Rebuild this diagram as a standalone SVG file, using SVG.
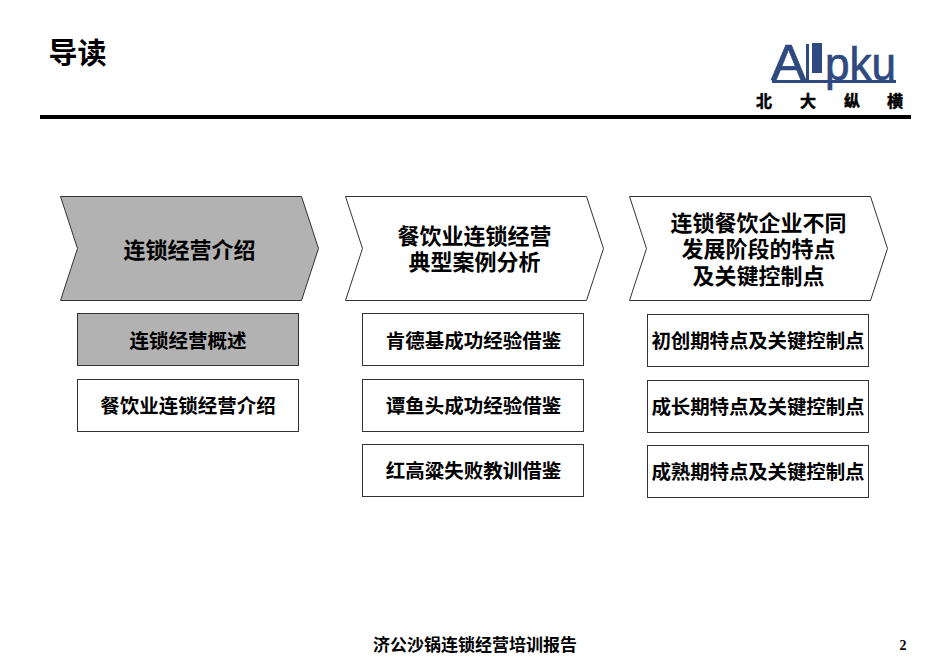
<svg xmlns="http://www.w3.org/2000/svg" width="950" height="658" viewBox="0 0 950 658">
<style>
text{font-family:"Liberation Sans","Noto Sans CJK SC",sans-serif;font-weight:bold;fill:#000;text-anchor:middle}
.c{stroke:#333;stroke-width:1;fill:#fff}
.g{fill:#b2b2b2}
.t1{font-size:22px}
.t2{font-size:19.5px}
.hz{font-size:16px;stroke:#000;stroke-width:.5}
</style>
<rect width="950" height="658" fill="#fff"/>
<g id="header">
<text x="77.500" y="64" style="font-size:29px">导读</text>
<rect x="40" y="115" width="871" height="4" fill="#000"/>
</g>
<g id="logo">
<text x="771" y="80" textLength="35" lengthAdjust="spacingAndGlyphs" style="font-size:50px;text-anchor:start;fill:#2f4a80;font-weight:normal;stroke:#2f4a80;stroke-width:.7">A</text>
<rect x="806" y="44" width="3" height="37" fill="#2f4a80"/>
<rect x="812" y="43" width="10" height="30" fill="#2f4a80"/>
<text x="825" y="80" textLength="71" lengthAdjust="spacingAndGlyphs" style="font-size:46px;text-anchor:start;fill:#2f4a80;font-weight:normal;stroke:#2f4a80;stroke-width:.7">pku</text>
<rect x="772" y="80" width="124" height="3" fill="#2f4a80"/>
<text class="hz" x="764" y="107">北</text>
<text class="hz" x="808" y="107">大</text>
<text class="hz" x="852" y="107">纵</text>
<text class="hz" x="895" y="107">横</text>
</g>
<g id="step1">
<path class="c g" d="M60.500 196.500H301.500L318.500 248.500L301.500 300.500H60.500L77.500 248.500Z"/>
<text class="t1" x="189.500" y="258">连锁经营介绍</text>
</g>
<g id="step2">
<path class="c" d="M345.500 196.500H586.500L603.500 248.500L586.500 300.500H345.500L362.500 248.500Z"/>
<text class="t1" x="474.500" y="244">餐饮业连锁经营</text>
<text class="t1" x="474.500" y="270">典型案例分析</text>
</g>
<g id="step3">
<path class="c" d="M629.500 196.500H870.500L887.500 248.500L870.500 300.500H629.500L646.500 248.500Z"/>
<text class="t1" x="758.500" y="231">连锁餐饮企业不同</text>
<text class="t1" x="758.500" y="257">发展阶段的特点</text>
<text class="t1" x="758.500" y="284">及关键控制点</text>
</g>
<g id="box-a1"><rect class="c g" x="77.500" y="313.500" width="221" height="52"/><text class="t2" x="188" y="348">连锁经营概述</text></g>
<g id="box-a2"><rect class="c" x="77.500" y="379.500" width="221" height="52"/><text class="t2" x="188" y="413">餐饮业连锁经营介绍</text></g>
<g id="box-b1"><rect class="c" x="362.500" y="313.500" width="221" height="52"/><text class="t2" x="473.500" y="348">肯德基成功经验借鉴</text></g>
<g id="box-b2"><rect class="c" x="362.500" y="379.500" width="221" height="52"/><text class="t2" x="473.500" y="413">谭鱼头成功经验借鉴</text></g>
<g id="box-b3"><rect class="c" x="362.500" y="444.500" width="221" height="52"/><text class="t2" x="473.500" y="478">红高粱失败教训借鉴</text></g>
<g id="box-c1"><rect class="c" x="647.500" y="314.500" width="221" height="52"/><text class="t2" x="758" y="348" textLength="213">初创期特点及关键控制点</text></g>
<g id="box-c2"><rect class="c" x="647.500" y="380.500" width="221" height="52"/><text class="t2" x="758" y="414" textLength="213">成长期特点及关键控制点</text></g>
<g id="box-c3"><rect class="c" x="647.500" y="445.500" width="221" height="52"/><text class="t2" x="758" y="479" textLength="213">成熟期特点及关键控制点</text></g>
<g id="connectors"></g>
<g id="footer">
<text x="475" y="651" style="font-size:17px">济公沙锅连锁经营培训报告</text>
<text x="903" y="650" style='font-size:14px;font-family:"Liberation Serif",serif'>2</text>
</g>
</svg>
